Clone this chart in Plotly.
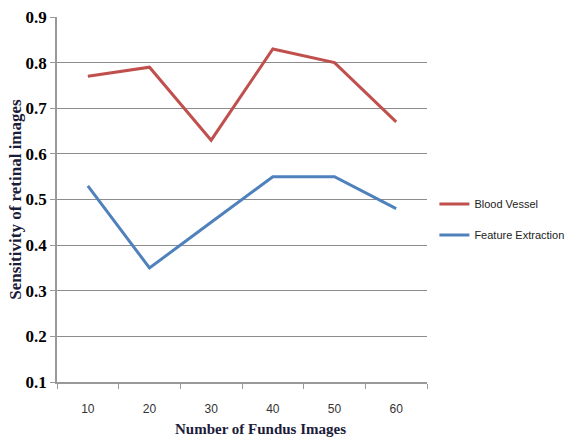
import plotly.graph_objects as go

# Number of fundus images evaluated
categories = ["10", "20", "30", "40", "50", "60"]

# Sensitivity of retinal images for each method
blood_vessel = [0.77, 0.79, 0.63, 0.83, 0.80, 0.67]
feature_extraction = [0.53, 0.35, 0.45, 0.55, 0.55, 0.48]

y_ticks = [0.1, 0.2, 0.3, 0.4, 0.5, 0.6, 0.7, 0.8, 0.9]

positions = list(range(len(categories)))
boundaries = [i - 0.5 for i in range(len(categories) + 1)]

fig = go.Figure()
fig.add_trace(go.Scatter(
    x=positions, y=blood_vessel, mode="lines", name="Blood Vessel",
    line=dict(color="#C0504D", width=3), legendgroup="a",
))
fig.add_trace(go.Scatter(
    x=positions, y=feature_extraction, mode="lines", name="Feature Extraction",
    line=dict(color="#4F81BD", width=3), legendgroup="b",
))
# invisible trace carrying the category labels axis
fig.add_trace(go.Scatter(
    x=positions, y=blood_vessel, xaxis="x2", mode="lines",
    line=dict(width=0), showlegend=False, hoverinfo="skip", opacity=0,
))

serif_bold = "Liberation Serif"

fig.update_layout(
    width=568, height=437,
    margin=dict(l=57, r=141, t=17, b=55, autoexpand=False),
    paper_bgcolor="white", plot_bgcolor="white",
    showlegend=True,
    legend=dict(
        x=1.02, y=0.445, xanchor="left", yanchor="middle",
        font=dict(family="Liberation Sans Narrow, Arial Narrow, Liberation Sans", size=11, color="#222"),
        tracegroupgap=12, itemwidth=30, bgcolor="rgba(0,0,0,0)",
    ),
    xaxis=dict(
        range=[-0.5, len(categories) - 0.5],
        tickmode="array", tickvals=boundaries, ticktext=[""] * len(boundaries),
        ticks="outside", ticklen=5, tickcolor="#999", tickwidth=1,
        showgrid=False, showline=True, linecolor="#999", linewidth=1.5,
        zeroline=False, fixedrange=True,
    ),
    xaxis2=dict(
        overlaying="x", anchor="y", side="bottom",
        range=[-0.5, len(categories) - 0.5],
        tickmode="array", tickvals=positions, ticktext=categories,
        ticks="", showgrid=False, showline=False, zeroline=False,
        tickfont=dict(family="Liberation Sans Narrow, Liberation Sans", size=12, color="#333"),
        ticklabelstandoff=18,
    ),
    yaxis=dict(
        range=[0.1, 0.9], tickmode="array", tickvals=y_ticks,
        ticktext=[f"{v:.1f}" for v in y_ticks],
        ticks="outside", ticklen=5, tickcolor="#999",
        showgrid=True, gridcolor="#8c8c8c", gridwidth=1,
        showline=True, linecolor="#999", linewidth=1.5, zeroline=False,
        tickfont=dict(family=serif_bold, size=17, color="#000", weight="bold"),
        title=dict(
            text="Sensitivity of retinal images", standoff=0,
            font=dict(family=serif_bold, size=17, color="#1b1b3a", weight="bold"),
        ),
    ),
)

fig.add_annotation(
    text="Number of Fundus Images", xref="paper", yref="paper",
    x=0.55, y=0, yshift=-47, xanchor="center", yanchor="middle", showarrow=False,
    font=dict(family=serif_bold, size=15, color="#1b1b3a", weight="bold"),
)

fig.write_html("out.html")
